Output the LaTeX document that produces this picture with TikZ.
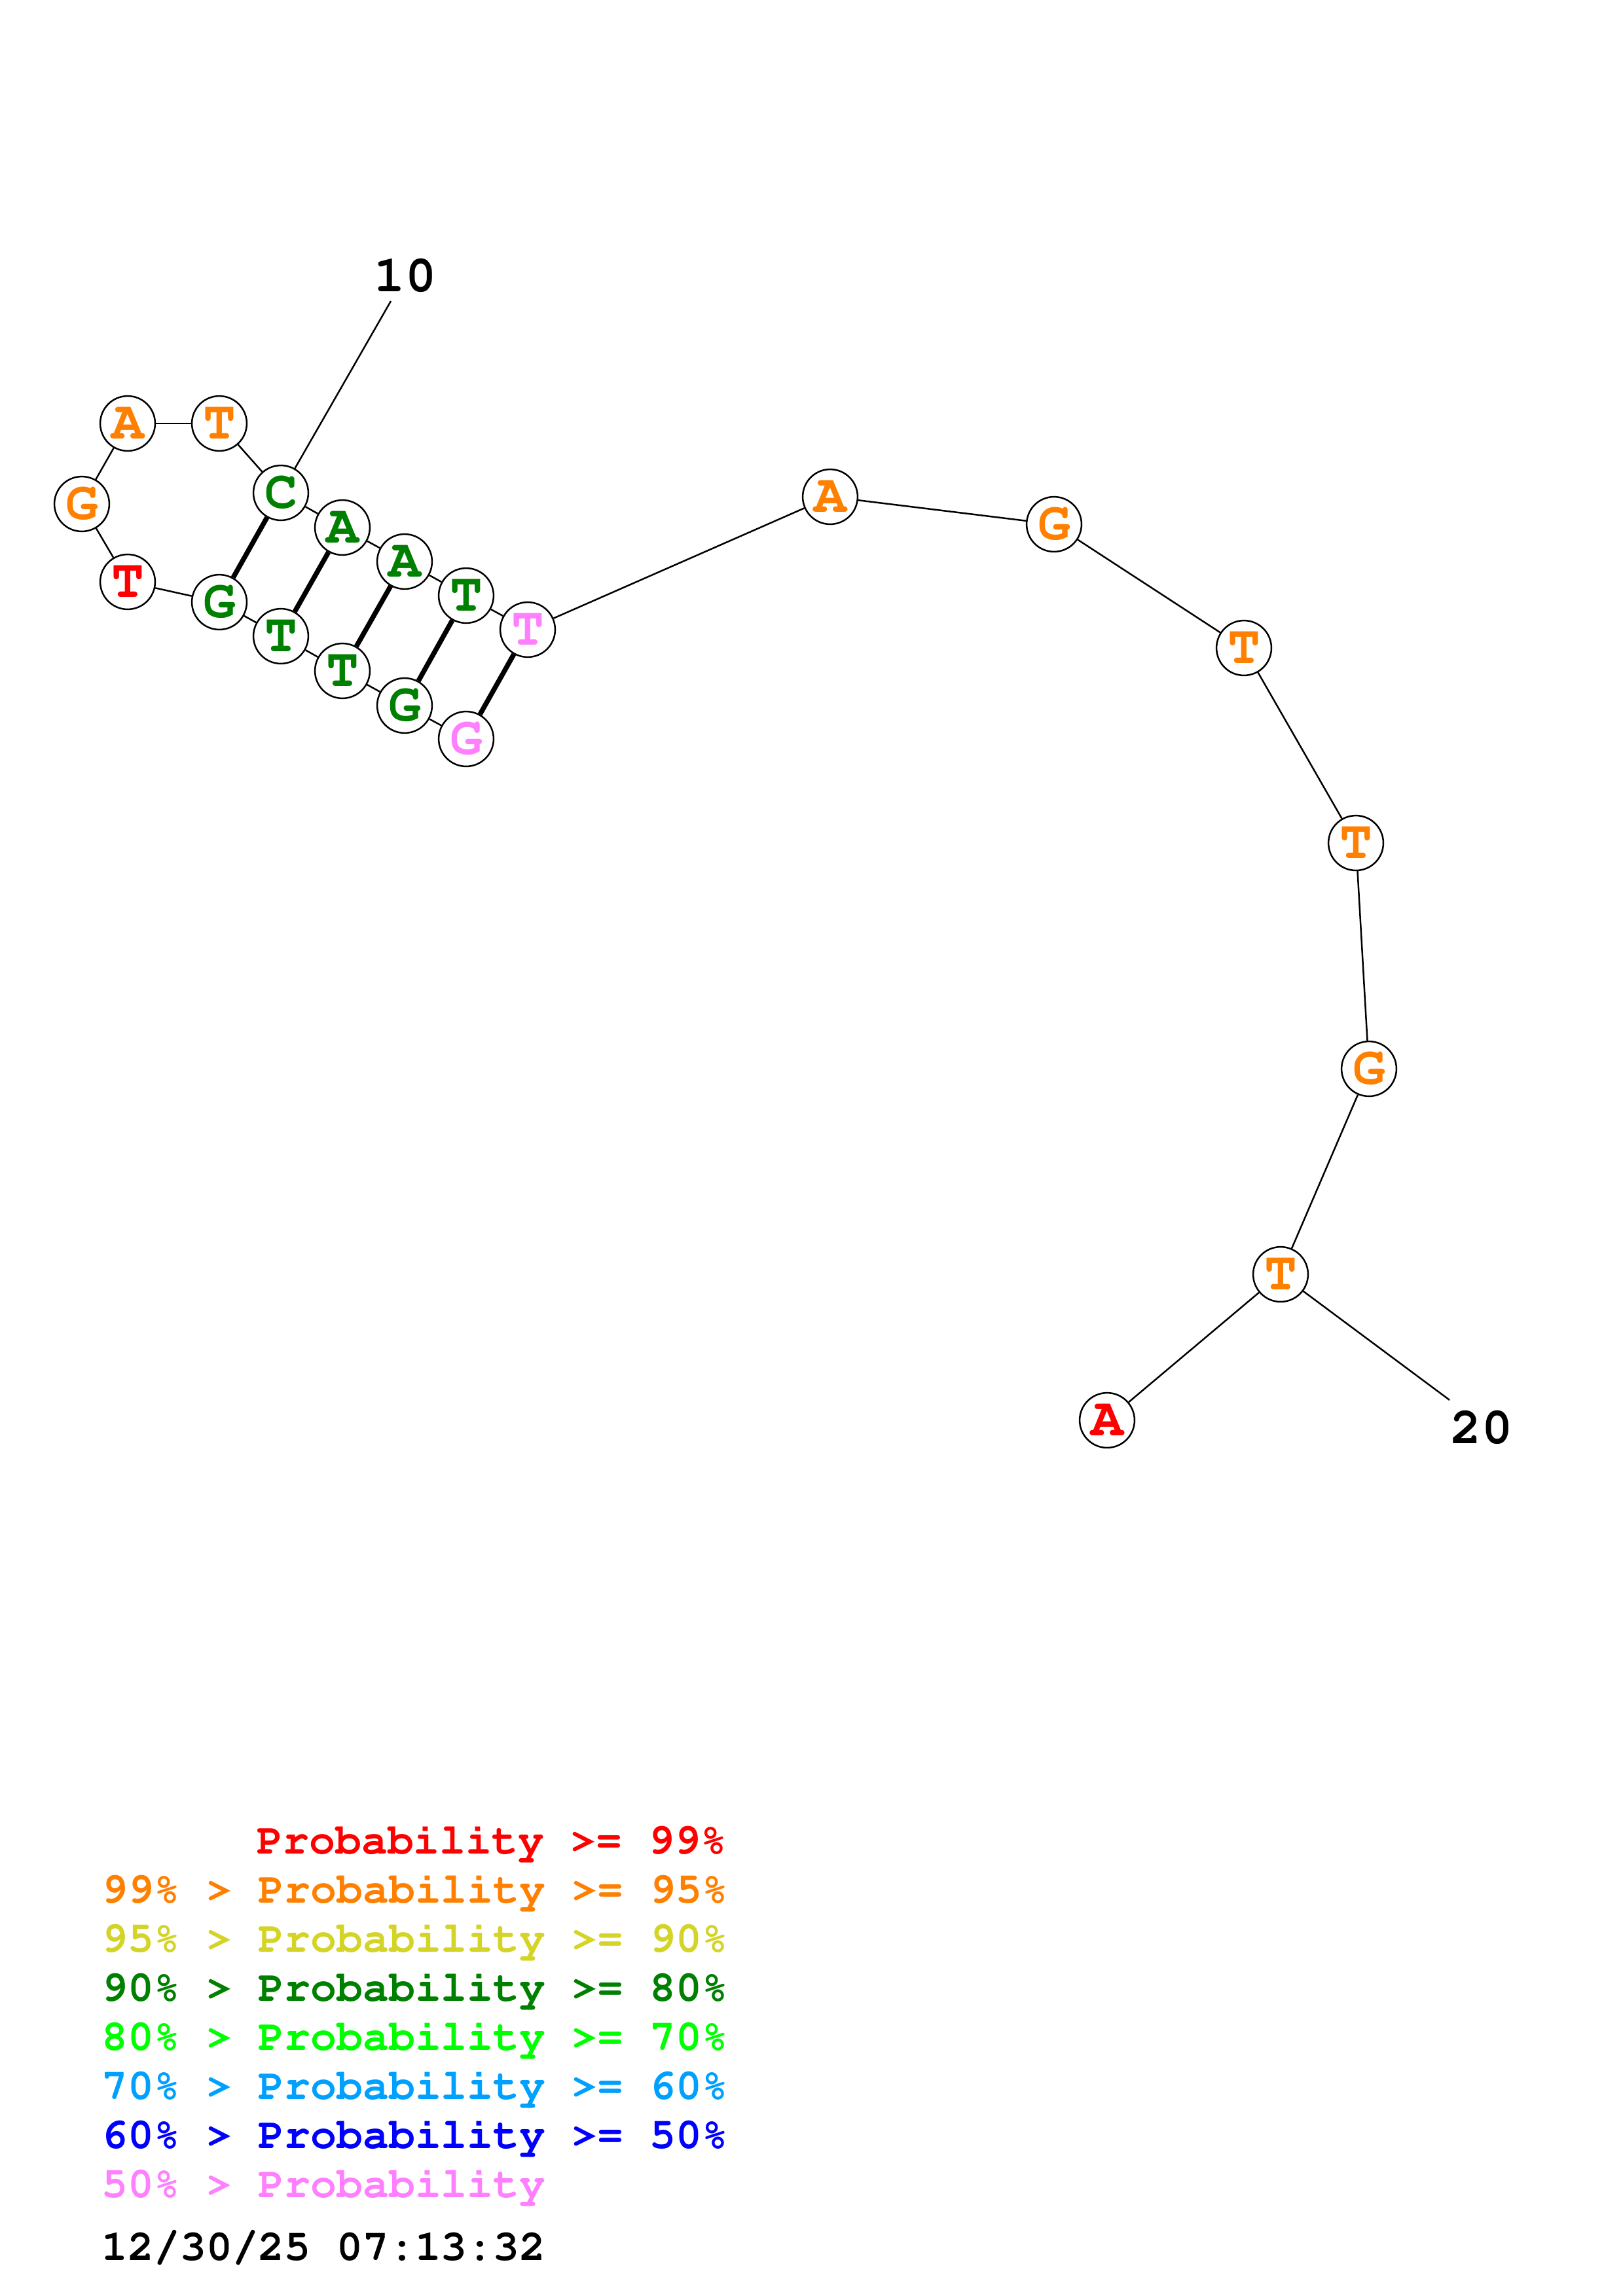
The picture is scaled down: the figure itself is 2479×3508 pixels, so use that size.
\documentclass[tikz,border=0pt]{standalone}
\usepackage[T1]{fontenc}
\renewcommand{\ttdefault}{pcr}
\usepackage{tikz}

\definecolor{pred}{RGB}{255,0,0}
\definecolor{porange}{RGB}{255,128,0}
\definecolor{pyellow}{RGB}{212,212,40}
\definecolor{pgreen}{RGB}{0,128,0}
\definecolor{plime}{RGB}{0,255,0}
\definecolor{psky}{RGB}{0,160,255}
\definecolor{pblue}{RGB}{0,0,255}
\definecolor{ppink}{RGB}{255,128,255}

\begin{document}
\begin{tikzpicture}[
  x=0.084667mm, y=-0.084667mm,
  base/.style={circle,draw=black,line width=0.6pt,minimum size=7.1mm,inner sep=0pt,
    font=\ttfamily\bfseries\fontsize{20pt}{20pt}\selectfont},
  chain/.style={draw=black,line width=0.6pt},
  pair/.style={draw=black,line width=1.8pt},
  legend/.style={anchor=base west,inner sep=0pt,font=\ttfamily\bfseries\fontsize{16pt}{16pt}\selectfont},
  numlabel/.style={inner sep=0pt,font=\ttfamily\bfseries\fontsize{19pt}{19pt}\selectfont}
]

\useasboundingbox (0,0) rectangle (2479,3508);

% bases, 5' to 3'
\def\nt#1 #2 #3 #4;{
  \node[base,text=#3] (#1) at (#2) {#4};
}
\nt n1 {712,1129} ppink G;
\nt n2 {618,1078} pgreen G;
\nt n3 {523,1025} pgreen T;
\nt n4 {429,972} pgreen T;
\nt n5 {335,920} pgreen G;
\nt n6 {195,889} pred T;
\nt n7 {125,770} porange G;
\nt n8 {195,647} porange A;
\nt n9 {335,647} porange T;
\nt n10 {429,753} pgreen C;
\nt n11 {523,806} pgreen A;
\nt n12 {618,858} pgreen A;
\nt n13 {712,910} pgreen T;
\nt n14 {806,962} ppink T;
\nt n15 {1268,759} porange A;
\nt n16 {1610,801} porange G;
\nt n17 {1900,990} porange T;
\nt n18 {2071,1288} porange T;
\nt n19 {2091,1633} porange G;
\nt n20 {1956,1947} porange T;
\nt n21 {1691,2170} pred A;

% backbone
\foreach \i [evaluate=\i as \j using int(\i+1)] in {1,...,20}
  \draw[chain] (n\i) -- (n\j);

% base pairs
\foreach \a/\b in {n1/n14,n2/n13,n3/n12,n4/n11,n5/n10}
  \draw[pair] (\a) -- (\b);

% position labels
\coordinate (t10) at (597,460);
\node[numlabel] (lab10) at (619,421) {10};
\draw[chain] (n10) -- (t10);
\coordinate (t20) at (2214,2139);
\node[numlabel] (lab20) at (2263,2181) {20};
\draw[chain] (n20) -- (t20);

% legend
\node[legend,text=pred] (key1) at (392,2832) {Probability >= 99\%};
\foreach \c/\hi/\lo [count=\k from 2] in {porange/99/95,pyellow/95/90,pgreen/90/80,
    plime/80/70,psky/70/60,pblue/60/50}
  \node[legend,text=\c] (key\k) at (155,{2832+75*(\k-1)}) {\hi\% > Probability >= \lo\%};
\node[legend,text=ppink] (key8) at (155,3357) {50\% > Probability};
\node[legend] (stamp) at (155,3453) {12/30/25 07:13:32};

\end{tikzpicture}
\end{document}
